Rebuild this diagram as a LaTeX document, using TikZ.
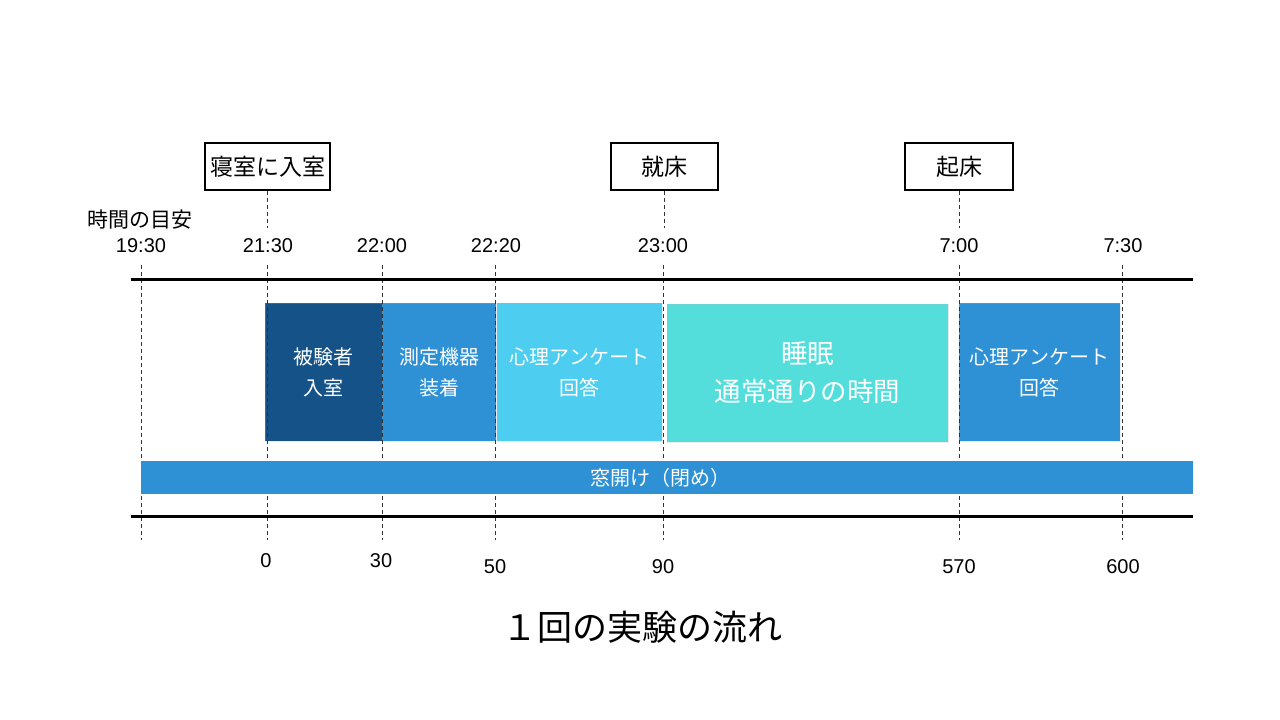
\documentclass[tikz,border=0pt]{standalone}
\usepackage{fontspec}
\setmainfont{Noto Sans CJK JP}
\newfontfamily\numfont{Liberation Sans}
\definecolor{cdark}{HTML}{155287}
\definecolor{cmid}{HTML}{2E90D5}
\definecolor{clight}{HTML}{4DCDF0}
\definecolor{cteal}{HTML}{53DEDC}
\begin{document}
\begin{tikzpicture}[x=1pt,y=-1pt,
  blockbox/.style={inner sep=0pt, minimum height=138pt, text=white, align=center, draw=white!70!black, draw opacity=0.25, line width=0.6pt, font=\fontsize{20}{31}\selectfont},
  eventbox/.style={draw=black, line width=1.4pt, minimum height=47pt, inner sep=0pt, font=\fontsize{23}{27}\selectfont},
  timelab/.style={font=\numfont\fontsize{20}{24}\selectfont, inner sep=0pt},
  minlab/.style={font=\numfont\fontsize{20}{24}\selectfont, inner sep=0pt},
  guide/.style={dashed, dash pattern=on 4pt off 3pt, line width=0.8pt, black!80},
  rulebar/.style={line width=3pt, black}]
\useasboundingbox (0,0) rectangle (1280,720);
\fill[white] (0,0) rectangle (1280,720);

% blocks
\node[blockbox, fill=cdark, minimum width=117pt] (b1) at (323.5,372) {被験者\\入室};
\node[blockbox, fill=cmid, minimum width=114pt] (b2) at (439,372) {測定機器\\装着};
\node[blockbox, fill=clight, minimum width=165pt] (b3) at (579.5,372) {心理アンケート\\回答};
\node[blockbox, fill=cteal, minimum width=281pt, font=\fontsize{26.5}{38}\selectfont] (b4) at (807.5,373) {睡眠\\通常通りの時間};
\node[blockbox, fill=cmid, minimum width=161pt] (b5) at (1039.5,372) {心理アンケート\\回答};

% guide coordinates
\foreach \n/\x in {g0/141,g1/267,g2/382,g3/495,g4/663,g5/959,g6/1122}{
  \coordinate (\n t) at (\x,265);
  \coordinate (\n b) at (\x,540);
}
\foreach \n in {g0,g1,g2,g3,g4,g5,g6}{
  \draw[guide] (\n t) -- (\n b);
}

% window bar
\node[fill=cmid, minimum width=1052pt, minimum height=33pt, inner sep=0pt] (bar) at (667,477.5) {};
\node[text=white, font=\fontsize{20}{24}\selectfont, inner sep=0pt] (barlab) at (660,477.5) {窓開け（閉め）};

% rules
\coordinate (r1l) at (131,279); \coordinate (r1r) at (1193,279);
\coordinate (r2l) at (131,516); \coordinate (r2r) at (1193,516);
\draw[rulebar] (r1l) -- (r1r);
\draw[rulebar] (r2l) -- (r2r);

% event boxes
\node[eventbox, minimum width=125pt] (e1) at (267.5,166.5) {寝室に入室};
\node[eventbox, minimum width=107pt] (e2) at (664.5,166.5) {就床};
\node[eventbox, minimum width=108pt] (e3) at (959,166.5) {起床};
\coordinate (e1e) at (267.5,228);
\coordinate (e2e) at (664.5,228);
\coordinate (e3e) at (959,228);
\draw[guide] (e1.south) -- (e1e);
\draw[guide] (e2.south) -- (e2e);
\draw[guide] (e3.south) -- (e3e);

% time labels
\node[font=\fontsize{21}{24}\selectfont, inner sep=0pt] (tt) at (140,220) {時間の目安};
\node[timelab] (t0) at (141,246) {19:30};
\node[timelab] (t1) at (268,246) {21:30};
\node[timelab] (t2) at (382,246) {22:00};
\node[timelab] (t3) at (496,246) {22:20};
\node[timelab] (t4) at (663,246) {23:00};
\node[timelab] (t5) at (959,246) {7:00};
\node[timelab] (t6) at (1123,246) {7:30};

% minute labels
\node[minlab] (m1) at (266,561) {0};
\node[minlab] (m2) at (381,561) {30};
\node[minlab] (m3) at (495,567) {50};
\node[minlab] (m4) at (663,567) {90};
\node[minlab] (m5) at (959,567) {570};
\node[minlab] (m6) at (1123,567) {600};

% title
\node[font=\fontsize{35}{40}\selectfont, inner sep=0pt] (title) at (642,627) {１回の実験の流れ};
\end{tikzpicture}
\end{document}
